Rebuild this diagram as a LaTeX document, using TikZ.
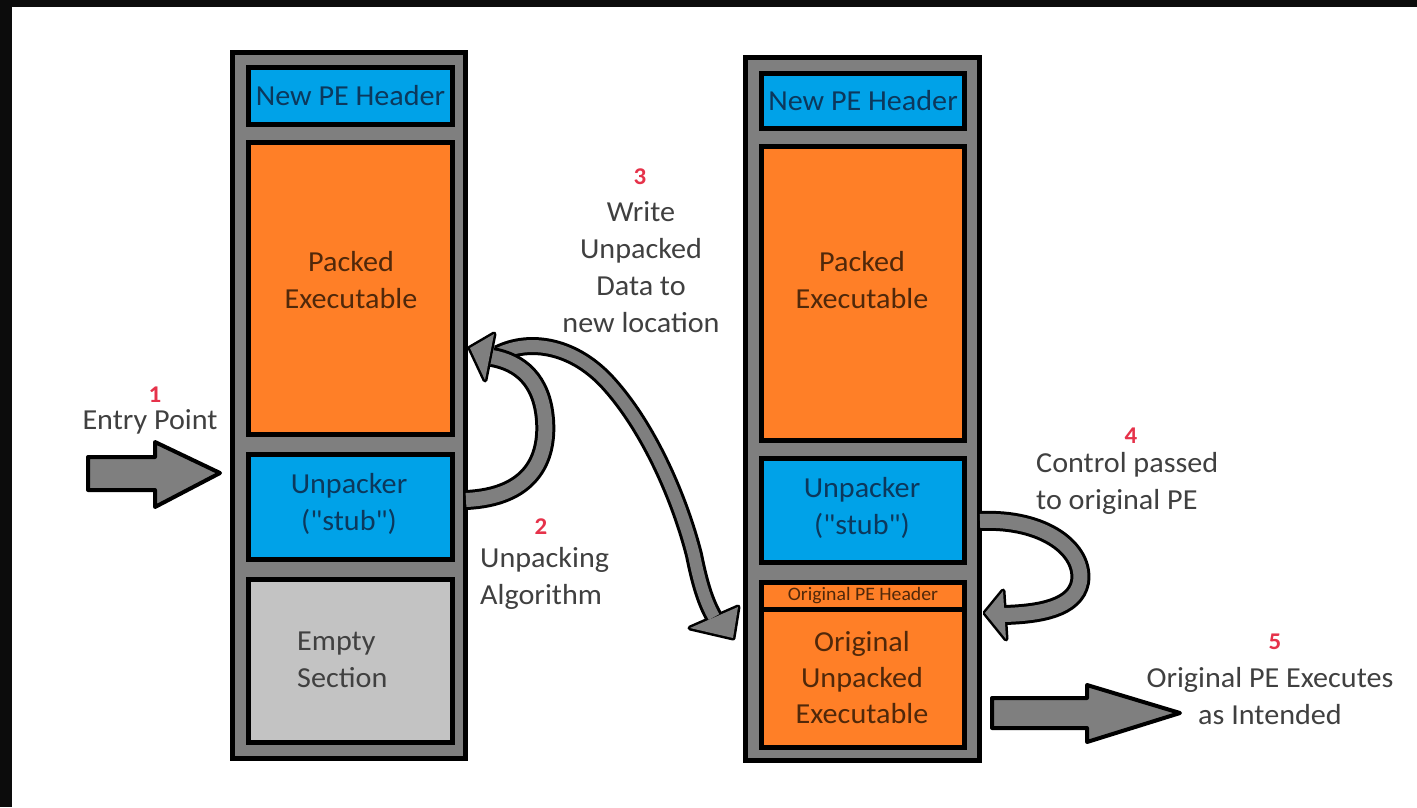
\documentclass[tikz,border=0pt]{standalone}
\usepackage{fontspec}
\setmainfont{Carlito}[FakeStretch=1.04, Ligatures=TeXOff]
\definecolor{porange}{HTML}{FF7F27}
\definecolor{pblue}{HTML}{00A2E8}
\definecolor{pgray}{HTML}{7F7F7F}
\definecolor{plight}{HTML}{C3C3C3}
\definecolor{txtgray}{HTML}{404040}
\definecolor{txtblue}{HTML}{0C385C}
\definecolor{txtorange}{HTML}{50280A}
\definecolor{numred}{HTML}{E6324A}
\definecolor{frameblack}{HTML}{0C0C0C}
\begin{document}
\begin{tikzpicture}[x=1pt,y=-1pt,
  box/.style={draw=black, line width=5pt, inner sep=0pt, rectangle},
  txt/.style={inner sep=0pt, align=center, font=\fontsize{29}{37}\selectfont},
  numlbl/.style={inner sep=0pt, text=numred, font=\fontsize{24}{28}\selectfont\bfseries},
  bandout/.style={draw=black, line width=20pt},
  bandin/.style={draw=pgray, line width=14pt},
  headout/.style={fill=black, draw=black, line width=5pt, line join=round},
  headin/.style={fill=pgray},
  blockarrow/.style={fill=pgray, draw=black, line width=4pt, line join=round}]
\useasboundingbox (0,0) rectangle (1417,807);
\fill[white] (0,0) rectangle (1417,807);
\fill[frameblack] (0,0) rectangle (1417,7);
\fill[frameblack] (0,0) rectangle (12,807);

% ---------- left column ----------
\node[box, fill=pgray, minimum width=233pt, minimum height=706pt] (colL) at (349,405.5) {};
\node[box, fill=pblue, minimum width=204pt, minimum height=57pt] (hdrL) at (350.5,96) {};
\node[box, fill=porange, minimum width=204pt, minimum height=292pt] (packL) at (350.5,288.5) {};
\node[box, fill=pblue, minimum width=204pt, minimum height=105pt] (unpL) at (350.5,507) {};
\node[box, fill=plight, minimum width=204pt, minimum height=163pt] (empL) at (350.5,661) {};

\node[txt, text=txtblue] (thdrL) at (hdrL.center) {New PE Header};
\node[txt, text=txtorange] (tpackL) at (351,280) {Packed\\Executable};
\node[txt, text=txtblue] (tunpL) at (349,504) {Unpacker\\("stub")};
\node[txt, text=txtgray, align=left, anchor=west] (tempL) at (297,660) {Empty\\Section};

% ---------- right column ----------
\node[box, fill=pgray, minimum width=234pt, minimum height=703pt] (colR) at (862.5,409) {};
\node[box, fill=pblue, minimum width=203pt, minimum height=55pt] (hdrR) at (863,101) {};
\node[box, fill=porange, minimum width=203pt, minimum height=294pt] (packR) at (863,293.5) {};
\node[box, fill=pblue, minimum width=203pt, minimum height=104pt] (unpR) at (863,510.5) {};
\node[box, fill=porange, minimum width=203pt, minimum height=138pt] (origR) at (863,678.5) {};
\node[box, fill=porange, minimum width=203pt, minimum height=27pt] (ohdrR) at (863,596) {};

\node[txt, text=txtblue] (thdrR) at (hdrR.center) {New PE Header};
\node[txt, text=txtorange] (tpackR) at (862,280) {Packed\\Executable};
\node[txt, text=txtblue] (tunpR) at (862,508) {Unpacker\\("stub")};
\node[inner sep=0pt, text=txtorange, font=\fontsize{19}{22}\selectfont] (tohdrR) at (ohdrR.center) {Original PE Header};
\node[txt, text=txtorange, font=\fontsize{29}{36}\selectfont] (torigR) at (862,678) {Original\\Unpacked\\Executable};

% ---------- step 1: entry arrow ----------
\coordinate (e1) at (88,457);
\draw[blockarrow] (e1) -- (155,457) -- (155,442) -- (220,473) -- (155,507) -- (155,490) -- (88,490) -- cycle;
\node[numlbl] (n1) at (155,395) {1};
\node[txt, text=txtgray] (l1) at (150,422) {Entry Point};

% ---------- step 3: write unpacked data ----------
\coordinate (a3s) at (498,354);
\coordinate (a3e) at (714,617);
\draw[bandout, line width=18pt] (a3s) .. controls (530,338) and (575,345) .. (610,385)
  .. controls (650,430) and (680,500) .. (694,555) .. controls (700,585) and (706,603) .. (a3e);
\filldraw[headout] (690,628) -- (738,607) -- (733,638) -- cycle;
\draw[bandin, line width=12pt] (a3s) .. controls (530,338) and (575,345) .. (610,385)
  .. controls (650,430) and (680,500) .. (694,555) .. controls (700,585) and (706,603) .. (a3e);
\fill[headin] (690,628) -- (738,607) -- (733,638) -- cycle;

% ---------- step 2: unpacking algorithm ----------
\coordinate (a2s) at (466,500);
\coordinate (a2e) at (492,357);
\draw[bandout] (a2s) .. controls (530,497) and (548,460) .. (545,420) .. controls (542,380) and (520,362) .. (a2e);
\filldraw[headout] (470,348) -- (494,334) -- (485,380) -- cycle;
\draw[bandin] (a2s) .. controls (530,497) and (548,460) .. (545,420) .. controls (542,380) and (520,362) .. (a2e);
\fill[headin] (470,348) -- (494,334) -- (485,380) -- cycle;

\node[numlbl] (n2) at (541,527) {2};
\node[txt, text=txtgray, align=left, anchor=west] (l2) at (480,578) {Unpacking\\Algorithm};
\node[numlbl] (n3) at (640,177) {3};
\node[txt, text=txtgray] (l3) at (641,267) {Write\\Unpacked\\Data to\\new location};

% ---------- step 4: control passed ----------
\coordinate (a4s) at (980,521);
\coordinate (a4e) at (1004,615);
\draw[bandout] (a4s) .. controls (1045,518) and (1085,550) .. (1080,582) .. controls (1075,608) and (1040,614) .. (a4e);
\filldraw[headout] (985,613) -- (1003,591) -- (1006,639) -- cycle;
\draw[bandin] (a4s) .. controls (1045,518) and (1085,550) .. (1080,582) .. controls (1075,608) and (1040,614) .. (a4e);
\fill[headin] (985,613) -- (1003,591) -- (1006,639) -- cycle;
\node[numlbl] (n4) at (1131,436) {4};
\node[txt, text=txtgray, align=left, anchor=west] (l4) at (1036,483) {Control passed\\to original PE};

% ---------- step 5: executes ----------
\coordinate (e5) at (992,698);
\draw[blockarrow] (e5) -- (1087,698) -- (1087,685) -- (1180,713) -- (1087,742) -- (1087,728) -- (992,728) -- cycle;
\node[numlbl] (n5) at (1275,642) {5};
\node[txt, text=txtgray] (l5) at (1270,696) {Original PE Executes\\as Intended};
\end{tikzpicture}
\end{document}
